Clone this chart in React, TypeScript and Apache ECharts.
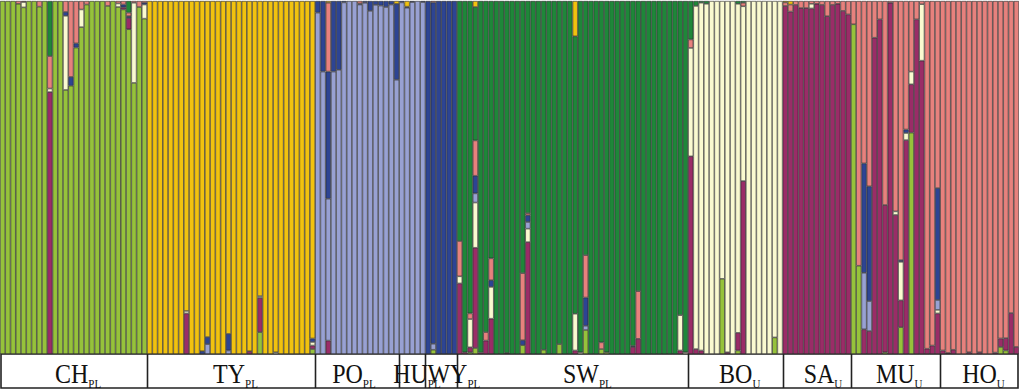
import React, { useEffect, useRef } from "react";
import * as echarts from "echarts";

// clusters, stacked bottom -> top
const CLUSTERS = ["li", "ma", "cr", "la", "na", "sa", "dg", "ye"];
const CLUSTER_COLORS = ["#96C23B", "#9A2C67", "#FAFAD0", "#98A1D3", "#2D4493", "#E7817D", "#1E8739", "#F1C20F"];

const GROUP_NAMES = ["CH", "TY", "PO", "HU", "WY", "SW", "BO", "SA", "MU", "HO"];
const GROUP_SUBS = ["PL", "PL", "PL", "PL", "PL", "PL", "U", "U", "U", "U"];
// cluster that takes the remainder of each individual's membership
const GROUP_MAIN = ["li", "ye", "la", "la", "na", "dg", "cr", "ma", "ma", "sa"];

type Adm = { [k: string]: number };

const CH_Q: Adm[] = [
  {}, {}, {}, { sa: 0.008 }, { cr: 0.015, sa: 0.003 }, {}, {}, { sa: 0.016 }, {},
  { ma: 0.742, cr: 0.01, sa: 0.092, dg: 0.156 }, {}, {},
  { cr: 0.21, na: 0.011, sa: 0.031 }, { na: 0.025, sa: 0.215 }, { na: 0.012, sa: 0.12 },
  { cr: 0.05, sa: 0.024 }, { sa: 0.01 }, {}, {}, {}, { sa: 0.014 }, {},
  { cr: 0.01, sa: 0.007 }, { ma: 0.006, na: 0.008, sa: 0.01 },
  { ma: 0.032, na: 0.005, sa: 0.01, dg: 0.033 }, { cr: 0.227, sa: 0.005 }, { sa: 0.017 },
  { cr: 0.04, na: 0.005, sa: 0.005 },
];
const TY_Q: Adm[] = [
  {}, {}, {}, {}, {}, {}, {}, { ma: 0.115, cr: 0.007 }, {}, {},
  { na: 0.008 }, { la: 0.028, na: 0.02 }, {}, {}, {}, { la: 0.01, na: 0.047 },
  {}, {}, {}, { ma: 0.008 }, {}, { li: 0.062, ma: 0.097, cr: 0.005 }, {}, {},
  { cr: 0.005 }, {}, {}, {}, {}, {}, {}, { li: 0.014, ma: 0.01, cr: 0.01, na: 0.01 },
];
const PO_Q: Adm[] = [
  { na: 0.033 }, { na: 0.2 }, { ma: 0.038, na: 0.36, sa: 0.195, ye: 0.005 }, { na: 0.2 },
  { na: 0.195 }, { na: 0.004 }, {}, {}, { na: 0.003, sa: 0.007 }, { na: 0.005 },
  { na: 0.028 }, { na: 0.011 }, { na: 0.013 }, { na: 0.017 }, { na: 0.01 },
  { na: 0.215, ye: 0.008 },
];
const HU_Q: Adm[] = [{ na: 0.004 }, { na: 0.003, ye: 0.016 }, { na: 0.003 }, {}, { na: 0.003 }];
const WY_Q: Adm[] = [{}, { li: 0.012, la: 0.017, sa: 0.004 }, {}, {}, {}, {}];
const SW_Q: Adm[] = [
  { ma: 0.2, cr: 0.02, sa: 0.1 }, { ma: 0.005 },
  { li: 0.005, ma: 0.014, cr: 0.08, sa: 0.016 },
  { li: 0.017, ma: 0.284, cr: 0.128, la: 0.026, na: 0.05, sa: 0.1, ye: 0.017 },
  { ma: 0.004 }, { ma: 0.038, sa: 0.024 }, { ma: 0.1, cr: 0.09, na: 0.019, sa: 0.062 },
  {}, {}, { ma: 0.003 }, {}, {},
  { li: 0.025, na: 0.014, sa: 0.19 },
  { ma: 0.317, cr: 0.038, la: 0.019, na: 0.019, sa: 0.006 },
  {}, {}, { li: 0.012 }, {}, {}, { li: 0.028 }, {}, {},
  { ma: 0.01, cr: 0.104, ye: 0.1 }, { cr: 0.005 },
  { li: 0.068, la: 0.012, na: 0.08, sa: 0.12 }, {}, {},
  { li: 0.014, sa: 0.019 }, { li: 0.005 }, {}, {}, {}, {},
  { ma: 0.02, na: 0.003 }, { ma: 0.043, sa: 0.135 },
  {}, {}, {}, {}, {}, {}, {},
  { ma: 0.01, cr: 0.1 }, { cr: 0.005 },
];
const BO_Q: Adm[] = [
  { ma: 0.56, sa: 0.024, dg: 0.109 }, { ma: 0.014, dg: 0.014 }, { ma: 0.01, dg: 0.005 },
  { dg: 0.008 }, {}, {}, { li: 0.213 }, { ma: 0.005 }, {},
  { li: 0.01, ma: 0.05, dg: 0.008 }, { ma: 0.49, sa: 0.01, dg: 0.005 },
  {}, {}, {}, {}, {}, { li: 0.047 }, {},
];
const SA_Q: Adm[] = [
  { sa: 0.01, ye: 0.004 }, { sa: 0.02, ye: 0.01 }, { sa: 0.011 }, { sa: 0.02 }, { sa: 0.02 },
  { cr: 0.013, sa: 0.008 }, { sa: 0.008 }, { sa: 0.011 }, { sa: 0.043 }, { sa: 0.011 },
  { sa: 0.008 }, { sa: 0.028 }, { sa: 0.038 },
];
const MU_Q: Adm[] = [
  { li: 0.934, sa: 0.066 }, { li: 0.25, sa: 0.75 },
  { la: 0.16, na: 0.31, sa: 0.46 }, { la: 0.085, na: 0.325, sa: 0.525 },
  { sa: 0.104 }, { sa: 0.052 }, { li: 0.005, sa: 0.578 }, { sa: 0.005 },
  { cr: 0.01, sa: 0.596 }, { li: 0.076, cr: 0.109, na: 0.005, sa: 0.734 },
  { cr: 0.02, na: 0.01, sa: 0.364 }, { li: 0.627, cr: 0.036, sa: 0.2 },
  { sa: 0.052 }, { cr: 0.16, sa: 0.009 }, { sa: 0.985 }, { sa: 0.976 },
  { cr: 0.01, la: 0.028, na: 0.317, sa: 0.53 },
];
const HO_Q: Adm[] = [
  { ma: 0.01 }, { ma: 0.003 }, { ma: 0.012 }, {}, {}, { ma: 0.005 }, {}, { ma: 0.005 },
  {}, {}, { ma: 0.004 }, { li: 0.02, ma: 0.024 }, { li: 0.01, ma: 0.035 },
  { ma: 0.116 }, { ma: 0.02 },
];

const GROUPS_Q = [CH_Q, TY_Q, PO_Q, HU_Q, WY_Q, SW_Q, BO_Q, SA_Q, MU_Q, HO_Q];

// label placement relative to group's left edge (layout only)
const LABEL_DX = [55, 66, 17, -6, 2, 106, 31, 21, 25, 22];

export default function App() {
  const ref = useRef<HTMLDivElement>(null);
  useEffect(() => {
    if (!ref.current) return;
    const chart = echarts.init(ref.current, undefined, { renderer: "svg" });

    const names: string[] = [];
    const qs: number[][] = [];
    const groupStart: number[] = [];
    GROUPS_Q.forEach((arr, g) => {
      groupStart.push(names.length);
      const mainIdx = CLUSTERS.indexOf(GROUP_MAIN[g]);
      arr.forEach((adm, i) => {
        const q = CLUSTERS.map((k) => adm[k] ?? 0);
        const rest = q.reduce((a, b) => a + b, 0);
        q[mainIdx] = Math.max(0, 1 - rest);
        qs.push(q);
        names.push(GROUP_NAMES[g] + (i + 1));
      });
    });
    groupStart.push(names.length);

    const series = CLUSTERS.map((k, c) => ({
      type: "bar",
      name: k,
      stack: "q",
      barWidth: "100%",
      barCategoryGap: "0%",
      silent: true,
      data: qs.map((q) => (q[c] > 0.0005 ? q[c] : null)),
      itemStyle: { color: CLUSTER_COLORS[c], borderColor: "#262626", borderWidth: 0.6 },
    }));

    chart.setOption({
      animation: false,
      grid: { left: 0, right: 0, top: 1, bottom: 36 },
      xAxis: {
        type: "category",
        data: names,
        show: false,
        boundaryGap: true,
      },
      yAxis: { type: "value", min: 0, max: 1, show: false },
      series,
    });

    const W = chart.getWidth();
    const center = (k: number) => chart.convertToPixel({ xAxisIndex: 0 }, names[k]) as number;
    const edge = (k: number) =>
      k <= 0 ? 0 : k >= names.length ? W : (center(k - 1) + center(k)) / 2;

    const top = 354;
    const bottom = 388;
    const graphics: any[] = [
      {
        type: "rect",
        shape: { x: 1, y: top, width: W - 2, height: bottom - top },
        style: { fill: "#ffffff", stroke: "#222222", lineWidth: 1.6 },
      },
    ];
    for (let g = 1; g < GROUP_NAMES.length; g++) {
      const x = Math.round(edge(groupStart[g])) + 0.5;
      graphics.push({
        type: "line",
        shape: { x1: x, y1: top, x2: x, y2: bottom },
        style: { stroke: "#222222", lineWidth: 1.6 },
      });
    }
    GROUP_NAMES.forEach((nm, g) => {
      const x0 = edge(groupStart[g]);
      graphics.push({
        type: "text",
        x: x0 + LABEL_DX[g],
        y: 373,
        scaleY: 1.14,
        style: {
          text: `{m|${nm}}{s|${GROUP_SUBS[g]}}`,
          align: "left",
          verticalAlign: "middle",
          rich: {
            m: { fontSize: 24, fontFamily: "Liberation Serif", fill: "#111", lineHeight: 25, verticalAlign: "bottom" },
            s: { fontSize: 11, fontFamily: "Liberation Serif", fill: "#111", lineHeight: 11, verticalAlign: "bottom", padding: [0, 0, -2, 0] },
          },
        },
      });
    });
    chart.setOption({ graphic: graphics });

    return () => chart.dispose();
  }, []);
  return (
    <div
      ref={ref}
      style={{ position: "absolute", left: 0, top: 0, width: 1019, height: 390, background: "#fff" }}
    />
  );
}
